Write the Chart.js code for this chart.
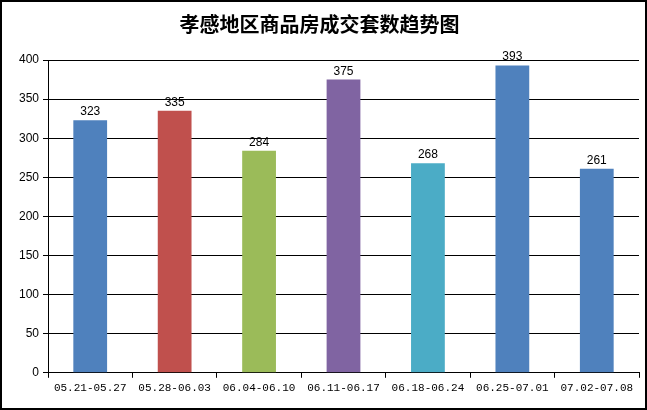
<!DOCTYPE html>
<html lang="zh">
  <head>
    <meta charset="utf-8" />
    <title>孝感地区商品房成交套数趋势图</title>
    <script src="https://cdn.jsdelivr.net/npm/chart.js@4.4.0/dist/chart.umd.min.js"></script>
    <style>
      html, body { margin: 0; padding: 0; background: #fff; }
      #wrap { width: 647px; height: 410px; position: relative; }
    </style>
  </head>
  <body>
    <div id="wrap">
      <canvas id="myChart" width="647" height="410"></canvas>
    </div>

    <script>
      var weeks = [
        "05.21-05.27", "05.28-06.03", "06.04-06.10", "06.11-06.17",
        "06.18-06.24", "06.25-07.01", "07.02-07.08"
      ];
      var deals = [323, 335, 284, 375, 268, 393, 261];
      var barColors = ["#4F81BD", "#C0504D", "#9BBB59", "#8064A2", "#4BACC6", "#4F81BD", "#4F81BD"];
      var yMax = 400;
      var yStep = 50;

      // value labels above each bar
      let valueLabels = {
        id: "valueLabels",
        afterDatasetsDraw: (chart) => {
          let ctx = chart.ctx;
          let meta = chart.getDatasetMeta(0);
          ctx.save();
          ctx.font = "12px 'Liberation Sans', Arial, sans-serif";
          ctx.fillStyle = "#000";
          ctx.textAlign = "center";
          ctx.textBaseline = "alphabetic";
          meta.data.forEach((bar, i) => {
            ctx.fillText(deals[i], bar.x, bar.y - 5);
          });
          ctx.restore();
        },
      };

      // outer frame
      let frame = {
        id: "frame",
        afterDraw: (chart) => {
          let ctx = chart.ctx;
          ctx.save();
          ctx.strokeStyle = "#000";
          ctx.lineWidth = 2;
          ctx.strokeRect(1, 1, chart.width - 2, chart.height - 2);
          ctx.restore();
        },
      };

      new Chart(document.getElementById("myChart"), {
        type: "bar",
        data: {
          labels: weeks,
          datasets: [
            {
              data: deals,
              backgroundColor: barColors,
              borderWidth: 0,
              categoryPercentage: 1,
              barPercentage: 0.4,
            },
          ],
        },
        plugins: [valueLabels, frame],
        options: {
          responsive: false,
          animation: false,
          layout: { padding: { left: 0, right: 8, top: 0, bottom: 11 } },
          plugins: {
            legend: { display: false },
            tooltip: { enabled: false },
            title: {
              display: true,
              text: "孝感地区商品房成交套数趋势图",
              color: "#000",
              font: { family: "'Noto Sans CJK SC', sans-serif", size: 20, weight: "bold" },
              padding: { top: 12, bottom: 24 },
            },
          },
          scales: {
            x: {
              offset: true,
              grid: {
                display: true,
                offset: true,
                drawOnChartArea: false,
                drawTicks: true,
                tickLength: 5,
                color: "#000",
              },
              border: { display: true, color: "#000", width: 1 },
              ticks: {
                color: "#000",
                padding: 4,
                maxRotation: 0,
                autoSkip: false,
                font: { family: "'Liberation Mono', monospace", size: 11 },
              },
            },
            y: {
              min: 0,
              max: yMax,
              afterFit: (scale) => { scale.width = 48; },
              grid: {
                color: "#000",
                lineWidth: 1,
                tickLength: 5,
              },
              border: { display: true, color: "#000", width: 1 },
              ticks: {
                stepSize: yStep,
                color: "#000",
                padding: 4,
                font: { family: "'Liberation Sans', Arial, sans-serif", size: 12 },
              },
            },
          },
        },
      });
    </script>
  </body>
</html>
